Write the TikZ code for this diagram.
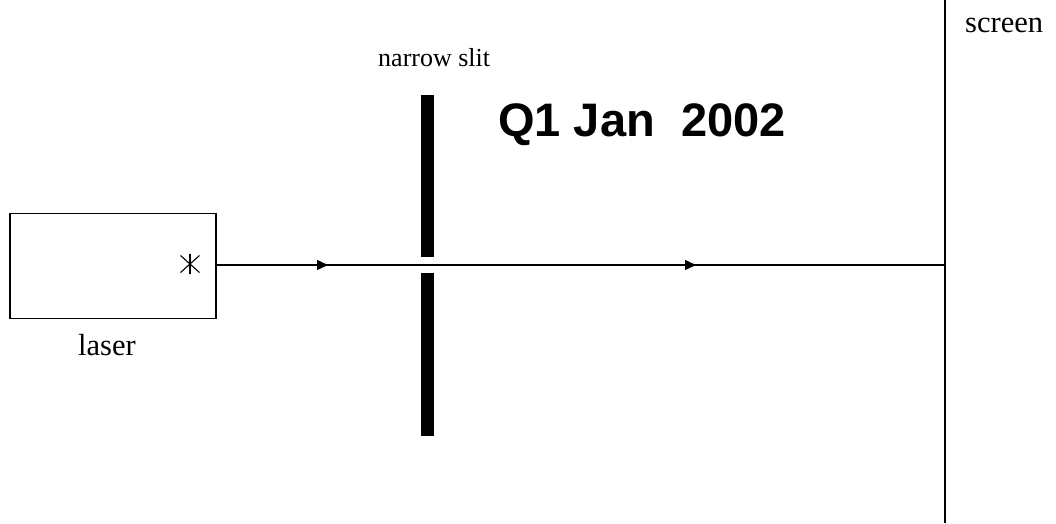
\documentclass[tikz,border=0pt]{standalone}
\usepackage{fontspec}
\setmainfont{Liberation Serif}
\newfontfamily\headfont{Liberation Sans}
\usetikzlibrary{arrows.meta,calc}
\begin{document}
\begin{tikzpicture}[x=1pt,y=-1pt,
  lbl/.style={inner sep=0pt,anchor=base west,font=\fontsize{30.5}{31}\selectfont},
  thinline/.style={line width=1.3pt},
  slitbar/.style={fill=black,draw=none,minimum width=13.6pt,inner sep=0pt},
  beam/.style={line width=1.4pt},
  beamarrow/.style={line width=1.4pt,-{Triangle[length=11pt,width=10pt]}}]
\useasboundingbox (0,0) rectangle (1056,523);
% laser
\node[draw,thinline,minimum width=206pt,minimum height=105pt,inner sep=0pt] (laser) at (113,265.8) {};
\node[lbl] (laserlbl) at (78,355) {laser};
\coordinate (star) at (190,264);
\draw[line width=1.1pt] ($(star)+(0,-10)$) -- ($(star)+(0,10)$);
\draw[line width=1.1pt] ($(star)+(-9.5,-8.5)$) -- ($(star)+(9.5,8.5)$);
\draw[line width=1.1pt] ($(star)+(-9.5,8.5)$) -- ($(star)+(9.5,-8.5)$);
% slit
\node[slitbar,minimum height=162.3pt] (slittop) at (427.5,176.15) {};
\node[slitbar,minimum height=162.7pt] (slitbot) at (427.5,354.65) {};
\node[inner sep=0pt,anchor=base west,font=\fontsize{26}{26}\selectfont] (slitlbl) at (378,66.7) {narrow slit};
% screen
\coordinate (scrtop) at (945,0);
\coordinate (scrbot) at (945,523);
\coordinate (hit) at (945,265);
\draw[line width=1.5pt] (scrtop) -- (scrbot);
\node[lbl] (scrlbl) at (965,32) {screen};
% beam
\coordinate (a1) at (328,265);
\coordinate (a2) at (696,265);
\draw[beam] (laser.east |- hit) -- (hit);
\draw[beamarrow] (laser.east |- hit) -- (a1);
\draw[beamarrow] (a1) -- (a2);
% title
\node[inner sep=0pt,anchor=base west,font=\headfont\bfseries\fontsize{47}{47}\selectfont] (title) at (498,136) {Q1 Jan\ \ 2002};
\end{tikzpicture}
\end{document}
